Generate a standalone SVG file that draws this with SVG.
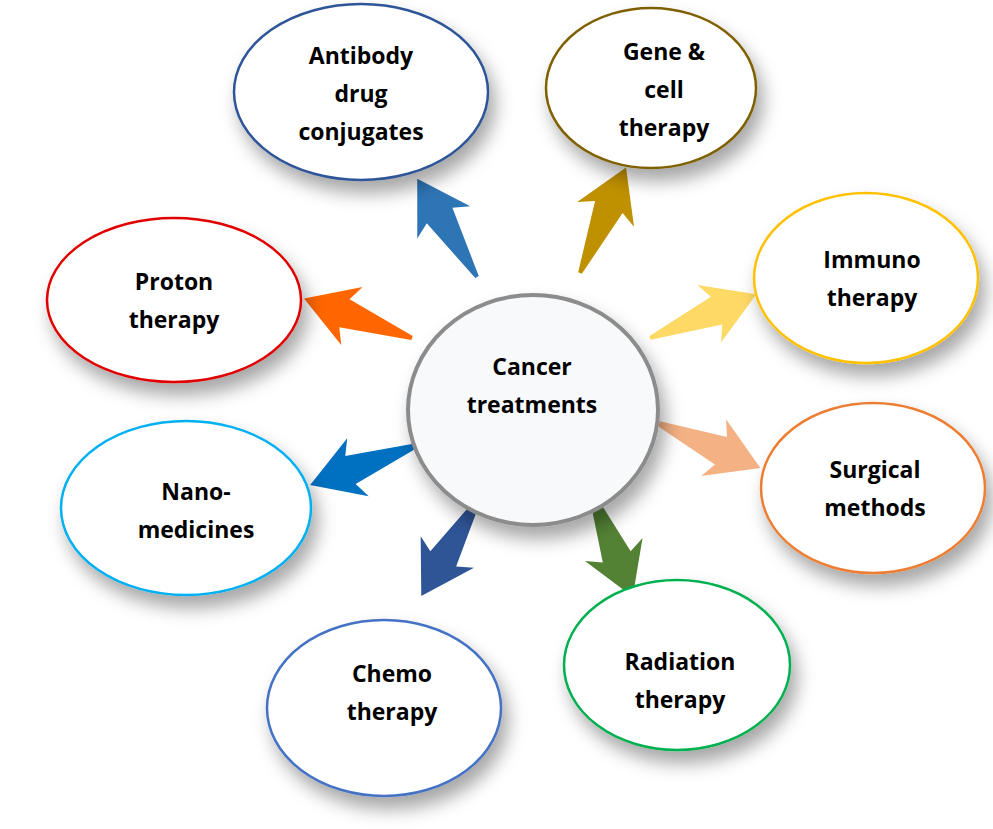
<svg xmlns="http://www.w3.org/2000/svg" width="993" height="829" viewBox="0 0 993 829">
<defs>
<filter id="sh" x="-30%" y="-30%" width="160%" height="170%"><feDropShadow dx="6" dy="12" stdDeviation="9" flood-color="#000" flood-opacity="0.35"/></filter>
<path id="arr" d="M0,-2 L72,-15 L64,-31 L115,0 L64,31 L72,15 L0,2 Z"/>
</defs>
<style>
.n{fill:#fff;stroke-width:2.5;filter:url(#sh)}
text{font-family:"Open Sans","Liberation Sans",sans-serif;font-weight:bold;font-size:23px;fill:#000;text-anchor:middle}
</style>
<rect width="993" height="829" fill="#fff"/>
<g id="connectors">
<use href="#arr" fill="#2E75B6" transform="translate(477,277) rotate(-121.3)"/>
<use href="#arr" fill="#BF9000" transform="translate(580,273) rotate(-66.4)"/>
<use href="#arr" fill="#FFD966" transform="translate(650,338) rotate(-22.3)"/>
<use href="#arr" fill="#F4B183" transform="translate(655,422) rotate(23.6)"/>
<use href="#arr" fill="#548235" transform="translate(590,490) rotate(68.2)"/>
<use href="#arr" fill="#2F5597" transform="translate(480,497) rotate(120.7)"/>
<use href="#arr" fill="#0070C0" transform="translate(418,445) rotate(159.7)"/>
<use href="#arr" fill="#FF6600" transform="translate(412,338) rotate(-159.9)"/>
</g>
<g id="antibody"><ellipse class="n" cx="361" cy="92" rx="127" ry="88" stroke="#2F5597"/><text x="361" y="64">Antibody</text><text x="361" y="102">drug</text><text x="361" y="140">conjugates</text></g>
<g id="gene"><ellipse class="n" cx="651" cy="88" rx="105" ry="80" stroke="#7F6000"/><text x="664" y="60">Gene &amp;</text><text x="664" y="98">cell</text><text x="664" y="136">therapy</text></g>
<g id="immuno"><ellipse class="n" cx="866" cy="278" rx="112" ry="85" stroke="#FFC000"/><text x="872" y="268">Immuno</text><text x="872" y="306">therapy</text></g>
<g id="surgical"><ellipse class="n" cx="873" cy="488" rx="112" ry="85" stroke="#ED7D31"/><text x="875" y="478">Surgical</text><text x="875" y="516">methods</text></g>
<g id="radiation"><ellipse class="n" cx="677" cy="665" rx="113" ry="85" stroke="#00B050"/><text x="680" y="670">Radiation</text><text x="680" y="708">therapy</text></g>
<g id="chemo"><ellipse class="n" cx="384" cy="708" rx="117" ry="88" stroke="#4472C4"/><text x="392" y="682">Chemo</text><text x="392" y="720">therapy</text></g>
<g id="nano"><ellipse class="n" cx="186" cy="508" rx="125" ry="87" stroke="#00B0F0"/><text x="196" y="500">Nano-</text><text x="196" y="538">medicines</text></g>
<g id="proton"><ellipse class="n" cx="174" cy="300" rx="127" ry="82" stroke="#E00000"/><text x="174" y="290">Proton</text><text x="174" y="328">therapy</text></g>
<g id="center"><ellipse cx="533" cy="410" rx="125" ry="115" fill="#F8F9FB" stroke="#8C8C8C" stroke-width="4" filter="url(#sh)"/><text x="532" y="375">Cancer</text><text x="532" y="413">treatments</text></g>
</svg>
